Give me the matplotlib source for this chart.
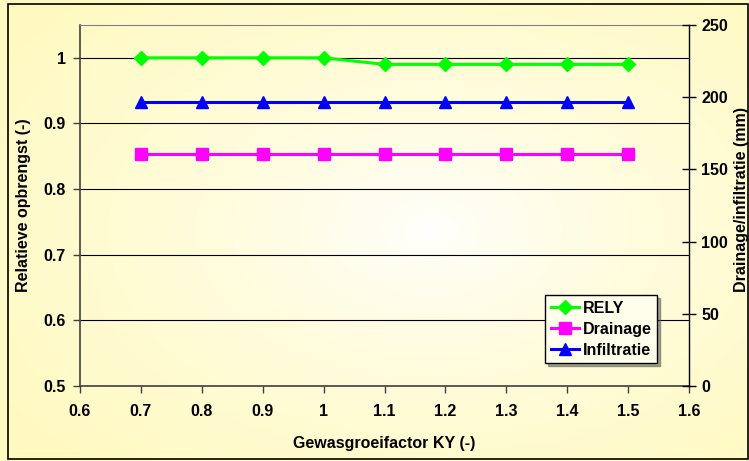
import numpy as np
import matplotlib.pyplot as plt
from matplotlib.patches import Rectangle

# Gegevens
ky = [0.7, 0.8, 0.9, 1.0, 1.1, 1.2, 1.3, 1.4, 1.5]
rely = [1.0, 1.0, 1.0, 1.0, 0.99, 0.99, 0.99, 0.99, 0.99]
drainage = [161, 161, 161, 161, 161, 161, 161, 161, 161]
infiltratie = [197, 197, 197, 197, 197, 197, 197, 197, 197]

left_ticks = [0.5, 0.6, 0.7, 0.8, 0.9, 1.0]
right_ticks = [0, 50, 100, 150, 200, 250]
x_ticks = [0.6, 0.7, 0.8, 0.9, 1.0, 1.1, 1.2, 1.3, 1.4, 1.5, 1.6]

plt.rcParams['font.family'] = ['Liberation Sans', 'DejaVu Sans']
plt.rcParams['font.weight'] = 'bold'
fs = 11.5

W, H = 749, 461
fig = plt.figure(figsize=(W / 100, H / 100), dpi=100)

# achtergrond met radiaal verloop (wit in het midden, lichtgeel aan de rand)
bg = fig.add_axes([0, 0, 1, 1], zorder=-10)
yy, xx = np.mgrid[0:H, 0:W]
r = np.sqrt(((xx - 430) / 500.0) ** 2 + ((yy - 230) / 320.0) ** 2)
r = np.clip(r, 0, 1) ** 0.7
c_in = np.array([1.0, 1.0, 1.0])
c_out = np.array([1.0, 0.98, 0.76])
img = c_in[None, None, :] * (1 - r[..., None]) + c_out[None, None, :] * r[..., None]
bg.imshow(img, extent=[0, W, H, 0], aspect='auto')
bg.add_patch(Rectangle((8, 4), 740, 455, fill=False, edgecolor='black', lw=1.2))
bg.set_xlim(0, W)
bg.set_ylim(H, 0)
bg.axis('off')

ax = fig.add_axes([80 / W, (H - 386) / H, (689 - 80) / W, (386 - 25) / H])
ax.set_facecolor('none')
ax2 = ax.twinx()

l1, = ax.plot(ky, rely, color='#00FF00', lw=2.2, marker='D', ms=7, label='RELY')
l2, = ax2.plot(ky, drainage, color='#FF00FF', lw=2.2, marker='s', ms=8, label='Drainage')
l3, = ax2.plot(ky, infiltratie, color='#0000FF', lw=2.2, marker='^', ms=8.5, label='Infiltratie')

ax.set_xlim(0.6, 1.6)
ax.set_ylim(0.5, 1.05)
ax2.set_ylim(0, 250)

ax.set_xticks(x_ticks)
ax.set_xticklabels(['%g' % v for v in x_ticks])
ax.set_yticks(left_ticks)
ax.set_yticklabels(['%g' % v for v in left_ticks])
ax2.set_yticks(right_ticks)
ax2.set_yticklabels([str(v) for v in right_ticks])

ax.yaxis.grid(True, color='black', lw=0.8)
ax.set_axisbelow(True)

for s in ['left', 'bottom']:
    ax.spines[s].set_color('#404040')
    ax.spines[s].set_linewidth(1.2)
ax.spines['top'].set_color('#808080')
ax.spines['right'].set_visible(False)
for s in ['left', 'bottom', 'top']:
    ax2.spines[s].set_visible(False)
ax2.spines['right'].set_color('black')
ax2.spines['right'].set_linewidth(1.0)

ax.tick_params(axis='both', labelsize=fs, length=5, width=1, color='#404040')
ax.tick_params(axis='y', pad=5)
ax.tick_params(axis='x', pad=8)
ax2.tick_params(axis='y', labelsize=fs, direction='inout', length=10, width=1, pad=4)

ax.set_xlabel('Gewasgroeifactor KY (-)', fontsize=fs, fontweight='bold', labelpad=12)
ax.set_ylabel('Relatieve opbrengst (-)', fontsize=fs, fontweight='bold', labelpad=9)
fig.text(741.5 / W, (H - 200) / H, 'Drainage/infiltratie (mm)', rotation=90,
         fontsize=fs, fontweight='bold', ha='center', va='center')

leg = fig.legend([l1, l2, l3], ['RELY', 'Drainage', 'Infiltratie'],
                 loc='upper left', bbox_to_anchor=(545 / W, (H - 295) / H),
                 fontsize=fs, frameon=True, fancybox=False, shadow=True,
                 handlelength=1.8, handletextpad=0.2, borderpad=0.35,
                 labelspacing=0.38, borderaxespad=0)
leg.get_frame().set_edgecolor('black')
leg.get_frame().set_facecolor('#FFFFEC')
leg.get_frame().set_linewidth(1.0)

fig.savefig('out.png', dpi=100)
